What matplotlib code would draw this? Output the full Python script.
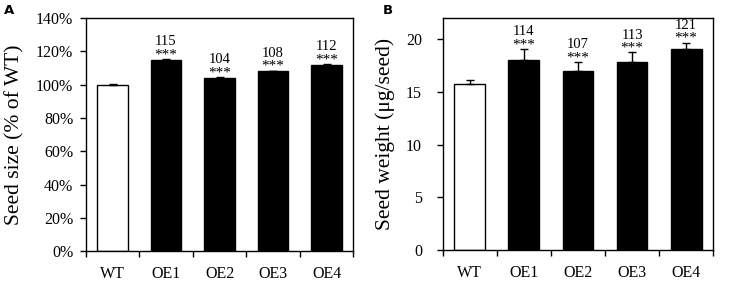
import numpy as np
import matplotlib.pyplot as plt

plt.rcParams['font.family'] = ['Liberation Serif', 'DejaVu Serif']

# data
lines = ["WT", "OE1", "OE2", "OE3", "OE4"]
size_pct = [100, 115, 104, 108, 112]
size_err = [0.4, 0.5, 0.4, 0.4, 0.5]
size_labels = ["", "115", "104", "108", "112"]
weight = [15.75, 18.03, 16.97, 17.85, 19.05]
weight_err = [0.40, 1.02, 0.85, 0.88, 0.62]
weight_labels = ["", "114", "107", "113", "121"]
stars = ["", "***", "***", "***", "***"]
bar_colors = ["white", "black", "black", "black", "black"]

fig = plt.figure(figsize=(7.33, 2.86), dpi=100)
axA = fig.add_axes([0.117, 0.122, 0.365, 0.815])
axB = fig.add_axes([0.604, 0.126, 0.369, 0.811])


def draw_panel(ax, vals, errs, nums, ylim, yticks, ylabel, ypad, label_x):
    x = np.arange(len(lines))
    ax.bar(x, vals, width=0.57, color=bar_colors, edgecolor="black", linewidth=1.0, zorder=2)
    ax.errorbar(x, vals, yerr=[np.zeros(len(errs)), errs], fmt="none", ecolor="black",
                elinewidth=1.0, capsize=3, capthick=1.0, zorder=3)
    for xi, v, e, n, s in zip(x, vals, errs, nums, stars):
        top = v + e
        if s:
            ax.annotate(s, (xi, top), xytext=(0, 3.0), textcoords="offset points",
                        ha="center", va="center", fontsize=11)
            ax.annotate(n, (xi, top), xytext=(0, 12.5), textcoords="offset points",
                        ha="center", va="center", fontsize=10.5)
    ax.set_xlim(-0.5, len(lines) - 0.5)
    ax.set_ylim(*ylim)
    ax.set_xticks(x)
    ax.set_xticklabels(lines, fontsize=11.5)
    ax.set_xticks(np.arange(-0.5, len(lines)), minor=True)
    ax.tick_params(axis="x", which="major", length=0, pad=11)
    ax.tick_params(axis="x", which="minor", length=4, width=1.0, direction="out")
    ax.set_yticks(yticks)
    ax.tick_params(axis="y", length=4, width=1.0, direction="out", labelsize=11.5, pad=ypad)
    ax.set_ylabel(ylabel, fontsize=15.5)
    ax.yaxis.set_label_coords(label_x, 0.5)
    for sp in ax.spines.values():
        sp.set_linewidth(1.0)


draw_panel(axA, size_pct, size_err, size_labels, (0, 140), np.arange(0, 141, 20),
           "Seed size (% of WT)", 5, -0.228)
axA.set_yticklabels([f"{t}%" for t in range(0, 141, 20)])

draw_panel(axB, weight, weight_err, weight_labels, (0, 22), np.arange(0, 21, 5),
           "Seed weight (\u03bcg/seed)", 11, -0.177)

fig.text(0.006, 0.962, "A", fontsize=9.5, fontweight="bold", family="DejaVu Sans",
         ha="left", va="center")
fig.text(0.522, 0.962, "B", fontsize=9.5, fontweight="bold", family="DejaVu Sans",
         ha="left", va="center")

fig.savefig("out.png", dpi=100)
